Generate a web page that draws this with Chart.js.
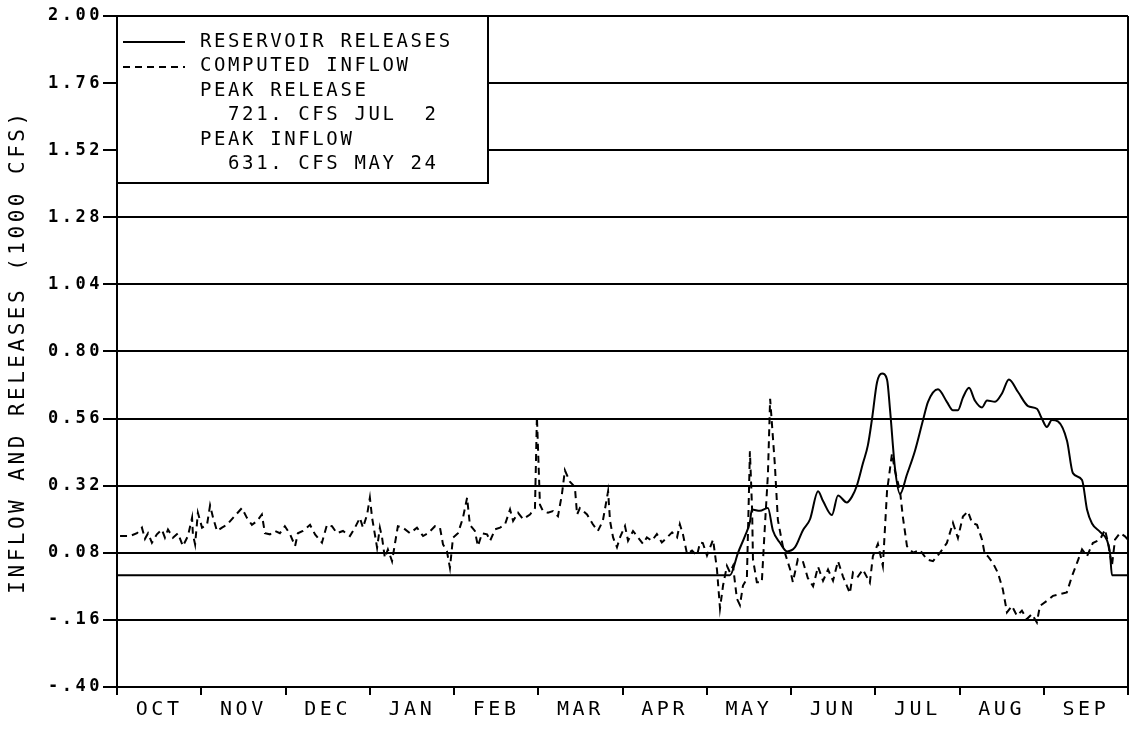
<!DOCTYPE html>
<html>
<head>
<meta charset="utf-8">
<title>Inflow and Releases</title>
<script src="https://cdn.jsdelivr.net/npm/chart.js@4/dist/chart.umd.min.js"></script>
<style>
  html, body { margin: 0; padding: 0; background: #fff; }
  #wrap { width: 1130px; height: 732px; position: relative; }
</style>
</head>
<body>
<div id="wrap"><canvas id="flowChart"></canvas></div>
<script>
// water year, Oct through Sep
const monthLabels = ["OCT", "NOV", "DEC", "JAN", "FEB", "MAR", "APR", "MAY", "JUN", "JUL", "AUG", "SEP"];
const yTickValues = [-0.40, -0.16, 0.08, 0.32, 0.56, 0.80, 1.04, 1.28, 1.52, 1.76, 2.00];

// day of water year (0 = Oct 1) and flow in 1000 cfs
const releaseDay = [
  0, 221.3, 224.2, 226.7, 228.5, 229.2, 232.1, 235.0, 236.8, 239.4,
  241.9, 244.8, 247.6, 250.2, 253.1, 254.9, 258.1, 260.3, 263.5, 265.3,
  267.1, 269.3, 271.1, 272.6, 274.4, 276.2, 278.0, 279.1, 280.9, 282.7,
  285.2, 288.1, 291.0, 292.8, 296.4, 299.6, 301.8, 303.6, 305.4, 307.6,
  309.7, 312.3, 314.1, 317.0, 319.5, 322.0, 325.3, 328.9, 332.1, 333.9,
  335.7, 337.5, 339.7, 343.0, 345.1, 348.4, 350.2, 352.0, 354.9, 357.4,
  358.5, 359.2, 365
];
const releaseKcfs = [
  0, 0, 0.08, 0.14, 0.19, 0.235, 0.23, 0.24, 0.16, 0.115,
  0.085, 0.10, 0.16, 0.20, 0.30, 0.265, 0.215, 0.285, 0.26, 0.28,
  0.32, 0.40, 0.465, 0.56, 0.69, 0.721, 0.70, 0.59, 0.38, 0.29,
  0.36, 0.445, 0.555, 0.62, 0.665, 0.62, 0.59, 0.59, 0.635, 0.67,
  0.625, 0.60, 0.625, 0.62, 0.65, 0.70, 0.655, 0.605, 0.595, 0.56,
  0.53, 0.555, 0.55, 0.48, 0.365, 0.34, 0.235, 0.185, 0.155, 0.125,
  0.08, 0, 0
];

const inflowDay = [
  1.1, 4.7, 7.2, 9.0, 10.1, 11.2, 12.6, 14.4, 16.2, 17.3, 18.4, 20.2, 22.0, 23.8, 25.6, 27.1, 27.4, 28.2, 29.2, 30.7,
  32.5, 33.6, 34.7, 36.1, 37.9, 39.7, 41.9, 45.1, 46.9, 48.7, 50.5, 52.3, 53.4, 55.2, 57.0, 58.8, 60.6, 62.5, 64.3, 65.3,
  67.1, 69.7, 71.5, 74.0, 75.8, 77.6, 79.4, 81.6, 84.1, 85.9, 87.7, 88.8, 90.3, 91.3, 92.1, 93.1, 93.9, 94.9, 95.7, 96.7,
  97.8, 99.3, 100.4, 101.4, 103.2, 105.8, 108.3, 110.5, 112.3, 114.8, 116.6, 117.7, 119.1, 120.2, 121.3, 123.1, 124.9, 126.4, 127.4, 129.2,
  130.3, 131.8, 133.6, 134.7, 136.5, 138.3, 140.1, 141.9, 143.0, 144.8, 146.6, 149.1, 150.9, 151.6, 152.7, 153.8, 155.6, 157.4, 159.2, 160.6,
  161.7, 163.5, 165.3, 166.1, 167.1, 169.7, 171.8, 173.6, 175.4, 177.3, 178.0, 179.1, 180.5, 181.6, 183.4, 184.5, 186.3, 188.1, 189.9, 191.3,
  193.1, 194.9, 196.7, 198.6, 200.4, 202.2, 203.2, 204.3, 205.8, 207.6, 209.4, 210.5, 211.5, 213.0, 215.2, 216.6, 217.7, 218.8, 220.2, 221.3,
  222.4, 223.8, 224.9, 226.0, 227.4, 228.5, 229.3, 229.6, 231.0, 232.8, 233.9, 235.0, 235.8, 237.5, 238.6, 240.4, 243.0, 244.0, 245.8, 247.6,
  249.4, 251.3, 253.1, 254.9, 256.7, 258.5, 260.3, 262.1, 264.6, 265.7, 267.5, 269.3, 271.8, 272.9, 274.7, 276.5, 278.0, 279.8, 280.8, 282.7,
  283.7, 285.2, 287.4, 289.9, 292.4, 294.6, 297.1, 299.6, 301.8, 303.6, 305.4, 307.2, 308.7, 310.5, 312.3, 313.3, 314.4, 316.2, 318.0, 319.8,
  321.3, 323.1, 324.9, 326.7, 328.5, 330.3, 332.1, 333.2, 335.7, 337.9, 340.4, 342.9, 344.8, 346.6, 348.4, 350.2, 352.3, 354.9, 356.7, 357.8,
  359.2, 360.3, 362.1, 363.9, 365.0
];
const inflowKcfs = [
  0.14, 0.14, 0.15, 0.17, 0.13, 0.15, 0.116, 0.146, 0.163, 0.134, 0.163, 0.134, 0.15, 0.104, 0.14, 0.205, 0.146, 0.11, 0.223, 0.17,
  0.18, 0.25, 0.205, 0.158, 0.17, 0.18, 0.205, 0.24, 0.205, 0.18, 0.193, 0.217, 0.15, 0.146, 0.158, 0.15, 0.175, 0.146, 0.104, 0.15,
  0.158, 0.18, 0.146, 0.116, 0.18, 0.175, 0.15, 0.158, 0.14, 0.17, 0.205, 0.17, 0.217, 0.277, 0.205, 0.146, 0.098, 0.17, 0.134, 0.062,
  0.092, 0.05, 0.116, 0.175, 0.17, 0.15, 0.17, 0.14, 0.15, 0.175, 0.17, 0.11, 0.086, 0.026, 0.134, 0.15, 0.205, 0.277, 0.18, 0.158,
  0.104, 0.15, 0.146, 0.123, 0.164, 0.17, 0.182, 0.235, 0.194, 0.223, 0.2, 0.217, 0.24, 0.568, 0.252, 0.229, 0.223, 0.229, 0.211, 0.287,
  0.375, 0.334, 0.316, 0.217, 0.24, 0.217, 0.182, 0.158, 0.194, 0.30, 0.194, 0.135, 0.10, 0.135, 0.176, 0.123, 0.158, 0.135, 0.112, 0.135,
  0.123, 0.147, 0.117, 0.135, 0.153, 0.135, 0.182, 0.147, 0.076, 0.088, 0.07, 0.117, 0.115, 0.07, 0.127, 0.021, -0.119, -0.037, 0.033, 0.01,
  0.033, -0.084, -0.107, -0.037, -0.014, 0.443, 0.232, 0.057, -0.025, -0.025, 0.174, 0.361, 0.631, 0.396, 0.197, 0.103, 0.021, -0.025, 0.057, 0.05,
  -0.01, -0.04, 0.03, -0.02, 0.02, -0.02, 0.05, -0.005, -0.065, 0.01, -0.005, 0.02, -0.027, 0.068, 0.112, 0.033, 0.30, 0.435, 0.376, 0.30,
  0.21, 0.104, 0.08, 0.09, 0.056, 0.05, 0.08, 0.115, 0.187, 0.133, 0.21, 0.228, 0.187, 0.18, 0.127, 0.074, 0.068, 0.044, 0.009, -0.05,
  -0.133, -0.11, -0.145, -0.127, -0.157, -0.139, -0.169, -0.11, -0.092, -0.074, -0.068, -0.062, -0.003, 0.044, 0.092, 0.068, 0.115, 0.127, 0.163, 0.115,
  0.033, 0.127, 0.151, 0.139, 0.127
];

const toPoints = (days, values) => days.map((d, i) => ({ x: d, y: values[i] }));

const peakRelease = Math.round(Math.max(...releaseKcfs) * 1000);
const peakInflow = Math.round(Math.max(...inflowKcfs) * 1000);
const legendLines = [
  "RESERVOIR RELEASES",
  "COMPUTED INFLOW",
  "PEAK RELEASE",
  `  ${peakRelease}. CFS JUL  2`,
  "PEAK INFLOW",
  `  ${peakInflow}. CFS MAY 24`,
];

const FONT = "'DejaVu Sans Mono', monospace";
const INFLOW_DASH = [7, 5];

// plotter lettering is spaced out wider than the font
const plotterSpacing = {
  id: "plotterSpacing",
  beforeDraw(chart) {
    chart.ctx.letterSpacing = "3.5px";
  },
};

// boxed key in the upper left corner plus the right frame edge
const keyBox = {
  id: "keyBox",
  afterDraw(chart) {
    const { ctx, chartArea } = chart;
    const left = chartArea.left;
    const top = chartArea.top;
    ctx.save();
    ctx.strokeStyle = "#000";
    ctx.lineWidth = 2;
    ctx.beginPath();
    ctx.moveTo(chartArea.right, chartArea.top);
    ctx.lineTo(chartArea.right, chartArea.bottom);
    ctx.stroke();

    ctx.fillStyle = "#fff";
    ctx.fillRect(left, top, 371, 167);
    ctx.strokeRect(left, top, 371, 167);

    // line samples
    ctx.beginPath();
    ctx.moveTo(left + 6, top + 26);
    ctx.lineTo(left + 68, top + 26);
    ctx.stroke();
    ctx.setLineDash(INFLOW_DASH);
    ctx.beginPath();
    ctx.moveTo(left + 6, top + 51);
    ctx.lineTo(left + 68, top + 51);
    ctx.stroke();
    ctx.setLineDash([]);

    ctx.fillStyle = "#000";
    ctx.font = `19px ${FONT}`;
    ctx.letterSpacing = "2.6px";
    ctx.textAlign = "left";
    ctx.textBaseline = "middle";
    legendLines.forEach((line, i) => {
      ctx.fillText(line, left + 83, top + 26 + i * 24.4);
    });
    ctx.restore();
  },
};

Chart.defaults.font.family = FONT;
Chart.defaults.color = "#000";

const ctx = document.getElementById("flowChart").getContext("2d");
const flowChart = new Chart(ctx, {
  type: "line",
  data: {
    datasets: [
      {
        label: "RESERVOIR RELEASES",
        data: toPoints(releaseDay, releaseKcfs),
        xAxisID: "xDay",
        borderColor: "#000",
        borderWidth: 2,
        pointRadius: 0,
        cubicInterpolationMode: "monotone",
      },
      {
        label: "COMPUTED INFLOW",
        data: toPoints(inflowDay, inflowKcfs),
        xAxisID: "xDay",
        borderColor: "#000",
        borderWidth: 2,
        borderDash: INFLOW_DASH,
        pointRadius: 0,
        tension: 0,
      },
    ],
  },
  options: {
    responsive: true,
    maintainAspectRatio: false,
    animation: false,
    layout: { padding: { top: 16, right: 2, left: 0, bottom: 0 } },
    plugins: {
      legend: { display: false },
      tooltip: { enabled: false },
    },
    scales: {
      x: {
        type: "category",
        labels: monthLabels,
        offset: true,
        grid: {
          offset: true,
          drawOnChartArea: false,
          color: "#000",
          lineWidth: 2,
          tickLength: 8,
        },
        border: { color: "#000", width: 2 },
        ticks: {
          font: { size: 20 },
          padding: 3,
          maxRotation: 0,
          autoSkip: false,
        },
        afterFit: (scale) => {
          scale.height = 45;
        },
      },
      xDay: {
        type: "linear",
        axis: "x",
        position: "bottom",
        display: false,
        min: 0,
        max: 365,
      },
      y: {
        min: -0.4,
        max: 2.0,
        afterBuildTicks: (scale) => {
          scale.ticks = yTickValues.map((v) => ({ value: v }));
        },
        grid: {
          color: "#000",
          lineWidth: 2,
          tickLength: 14,
        },
        border: { color: "#000", width: 2 },
        ticks: {
          font: { size: 17, weight: "bold" },
          padding: 0,
          callback: (value) =>
            value < 0
              ? "-" + Math.abs(value).toFixed(2).slice(1)
              : value.toFixed(2),
        },
        title: {
          display: true,
          text: "INFLOW AND RELEASES (1000 CFS)",
          font: { size: 21 },
          padding: { top: 6, bottom: 0 },
        },
        afterFit: (scale) => {
          scale.width = 117;
        },
      },
    },
  },
  plugins: [plotterSpacing, keyBox],
});
</script>
</body>
</html>
